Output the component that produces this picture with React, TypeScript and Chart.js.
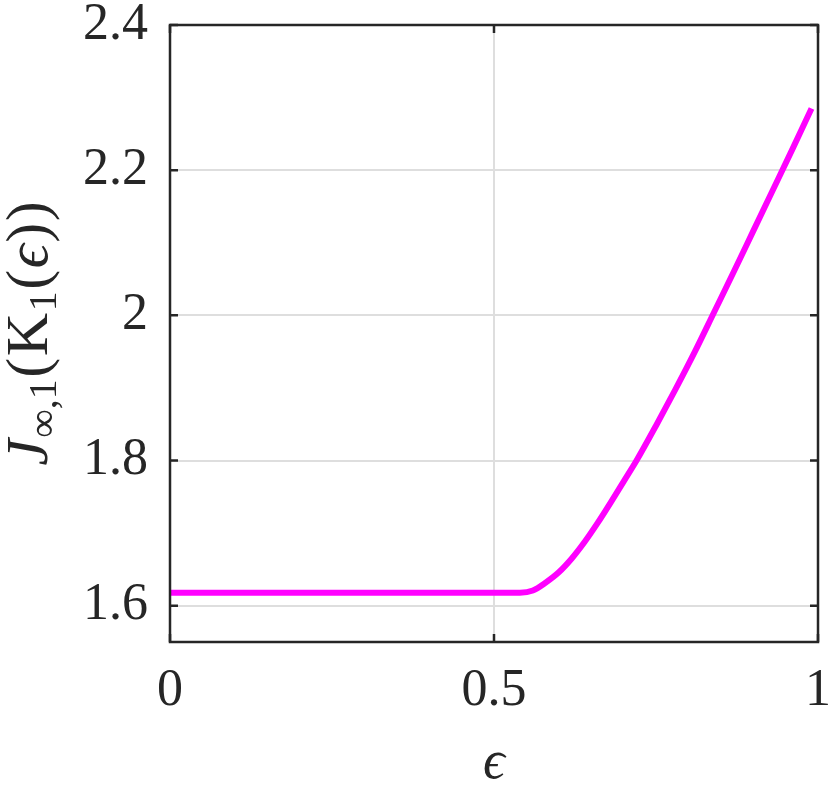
import React, { useEffect, useRef } from "react";
import { Chart, registerables } from "chart.js";

Chart.register(...registerables);

const epsValues = [0, 0.1, 0.2, 0.3, 0.4, 0.5, 0.54, 0.56, 0.58, 0.6, 0.62, 0.64, 0.66, 0.68, 0.7, 0.72, 0.75, 0.78, 0.81, 0.84, 0.87, 0.9, 0.93, 0.96, 0.99];
const jValues = [1.618, 1.618, 1.618, 1.618, 1.618, 1.618, 1.618, 1.621, 1.632, 1.646, 1.665, 1.688, 1.714, 1.742, 1.771, 1.8, 1.848, 1.898, 1.95, 2.005, 2.06, 2.116, 2.172, 2.228, 2.285];
const xTicks = [0, 0.5, 1];
const yTicks = [1.6, 1.8, 2.0, 2.2, 2.4];

const FONT = '"Liberation Serif", "DejaVu Serif", serif';
const INK = "#262626";

const framePlugin = {
  id: "framePlugin",
  afterDraw(chart: any) {
    const { ctx, chartArea } = chart;
    const { left, right, top, bottom } = chartArea;
    const xs = chart.scales.x;
    const ys = chart.scales.y;
    ctx.save();
    ctx.strokeStyle = INK;
    ctx.lineWidth = 2.5;
    ctx.strokeRect(left, top, right - left, bottom - top);
    const tl = 8;
    ctx.beginPath();
    for (const v of yTicks) {
      const y = ys.getPixelForValue(v);
      ctx.moveTo(left, y);
      ctx.lineTo(left + tl, y);
      ctx.moveTo(right, y);
      ctx.lineTo(right - tl, y);
    }
    for (const v of xTicks) {
      const x = xs.getPixelForValue(v);
      ctx.moveTo(x, bottom);
      ctx.lineTo(x, bottom - tl);
      ctx.moveTo(x, top);
      ctx.lineTo(x, top + tl);
    }
    ctx.stroke();

    // x title
    ctx.fillStyle = INK;
    ctx.font = `italic 54px ${FONT}`;
    ctx.textAlign = "center";
    ctx.textBaseline = "alphabetic";
    ctx.fillText("\u03F5", (left + right) / 2, 778);

    // y title
    const main = 60;
    const sub = 40;
    const pieces = [
      { t: "J", f: `italic ${main}px ${FONT}`, dy: 0 },
      { t: "\u221E,1", f: `${sub}px ${FONT}`, dy: 9 },
      { t: "(", f: `${main}px ${FONT}`, dy: 0 },
      { t: "K", f: `${main}px ${FONT}`, dy: 0 },
      { t: "1", f: `${sub}px ${FONT}`, dy: 9 },
      { t: "(", f: `${main}px ${FONT}`, dy: 0 },
      { t: "\u03F5", f: `italic ${main}px ${FONT}`, dy: 0 },
      { t: ")", f: `${main}px ${FONT}`, dy: 0 },
      { t: ")", f: `${main}px ${FONT}`, dy: 0 },
    ];
    const gap = 1.5;
    let total = 0;
    const widths = pieces.map((p) => {
      ctx.font = p.f;
      const w = ctx.measureText(p.t).width;
      total += w;
      return w;
    });
    total += gap * (pieces.length - 1);
    ctx.translate(47, (top + bottom) / 2);
    ctx.rotate(-Math.PI / 2);
    ctx.textAlign = "left";
    let x = -total / 2;
    pieces.forEach((p, i) => {
      ctx.font = p.f;
      ctx.fillText(p.t, x, p.dy);
      x += widths[i] + gap;
    });
    ctx.restore();
  },
};

export default function App() {
  const ref = useRef<HTMLCanvasElement | null>(null);
  useEffect(() => {
    if (!ref.current) return;
    const data = epsValues.map((e, i) => ({ x: e, y: jValues[i] }));
    const chart = new Chart(ref.current, {
      type: "line",
      data: {
        datasets: [
          {
            data,
            borderColor: "#ff00ff",
            borderWidth: 6,
            pointRadius: 0,
            cubicInterpolationMode: "monotone",
            fill: false,
          },
        ],
      },
      options: {
        animation: false,
        responsive: true,
        maintainAspectRatio: false,
        layout: { padding: { top: 25, right: 12, left: 0, bottom: 0 } },
        plugins: { legend: { display: false }, tooltip: { enabled: false } },
        scales: {
          x: {
            type: "linear",
            min: 0,
            max: 1,
            afterFit: (s: any) => {
              s.height = 144;
              s.paddingLeft = 0;
              s.paddingRight = 0;
            },
            afterBuildTicks: (s: any) => {
              s.ticks = xTicks.map((v) => ({ value: v }));
            },
            grid: { color: "#dedede", lineWidth: 2, drawTicks: false },
            border: { display: false },
            ticks: {
              padding: 18,
              color: INK,
              font: { family: FONT, size: 52 },
              maxRotation: 0,
              callback: (v: any) => String(+Number(v).toFixed(1)),
            },
          },
          y: {
            type: "linear",
            min: 1.55,
            max: 2.4,
            afterFit: (s: any) => {
              s.width = 170;
              s.paddingTop = 0;
              s.paddingBottom = 0;
            },
            afterBuildTicks: (s: any) => {
              s.ticks = yTicks.map((v) => ({ value: v }));
            },
            grid: { color: "#dedede", lineWidth: 2, drawTicks: false },
            border: { display: false },
            ticks: {
              padding: 22,
              color: INK,
              font: { family: FONT, size: 52 },
              callback: (v: any) => String(+Number(v).toFixed(1)),
            },
          },
        },
      },
      plugins: [framePlugin],
    });
    return () => chart.destroy();
  }, []);
  return (
    <div style={{ position: "absolute", left: 0, top: 0, width: 830, height: 786, background: "#fff" }}>
      <canvas ref={ref} />
    </div>
  );
}
